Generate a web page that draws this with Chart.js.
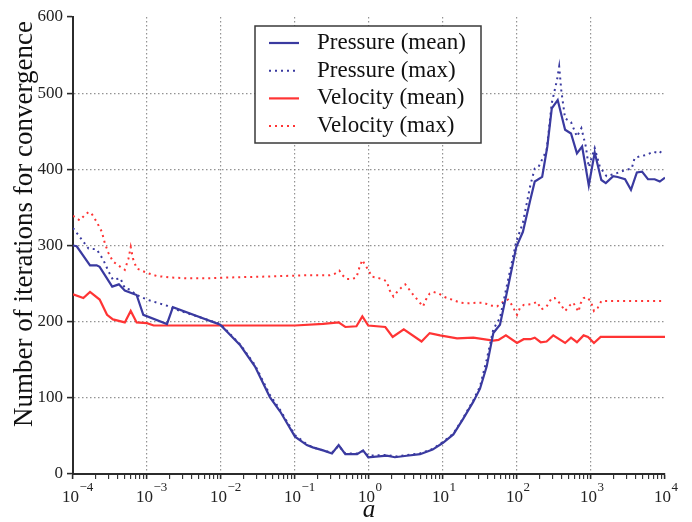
<!DOCTYPE html>
<html>
<head>
<meta charset="utf-8">
<script src="https://cdn.jsdelivr.net/npm/chart.js@4.4.1/dist/chart.umd.min.js"></script>
<style>
  html, body { margin: 0; padding: 0; background: #fff; }
  canvas { display: block; }
</style>
</head>
<body>
<canvas id="convergenceChart" width="692" height="522"></canvas>
<script>
const pressureMeanLogA = [-4.00, -3.95, -3.77, -3.68, -3.64, -3.47, -3.38, -3.30, -3.14, -3.05,
    -2.73, -2.65, -2.01, -1.74, -1.54, -1.34, -1.20, -1.00, -0.84, -0.76,
    -0.62, -0.50, -0.41, -0.32, -0.16, -0.08, -0.01, 0.24, 0.35, 0.51,
    0.69, 0.86, 1.00, 1.14, 1.27, 1.41, 1.50, 1.59, 1.68, 1.77,
    1.88, 1.99, 2.08, 2.18, 2.24, 2.34, 2.41, 2.47, 2.55, 2.65,
    2.73, 2.81, 2.88, 2.97, 3.05, 3.14, 3.20, 3.30, 3.36, 3.46,
    3.54, 3.62, 3.69, 3.77, 3.86, 3.93, 4.00];
const pressureMeanIters = [300, 299, 274, 274, 272, 246, 249, 241, 235, 209,
    197, 219, 196, 169, 141, 101, 82, 49, 38, 35,
    31, 27, 38, 26, 26, 31, 22, 24, 22, 24,
    26, 32, 41, 52, 72, 95, 112, 141, 185, 196,
    246, 298, 318, 360, 384, 390, 430, 480, 491, 452,
    447, 421, 430, 379, 422, 386, 382, 391, 390, 387,
    373, 396, 397, 387, 387, 384, 389];

const pressureMaxLogA = [-4.00, -3.86, -3.79, -3.68, -3.59, -3.52, -3.46, -3.36, -3.30, -3.23,
    -3.14, -3.00, -2.73, -2.64, -2.01, -1.74, -1.54, -1.34, -1.20, -1.00,
    -0.84, -0.76, -0.62, -0.50, -0.41, -0.32, -0.16, -0.08, -0.01, 0.24,
    0.35, 0.51, 0.69, 0.86, 1.00, 1.14, 1.27, 1.41, 1.50, 1.59,
    1.68, 1.77, 1.88, 1.99, 2.08, 2.18, 2.24, 2.29, 2.40, 2.47,
    2.54, 2.57, 2.60, 2.65, 2.73, 2.81, 2.87, 2.93, 2.97, 3.05,
    3.12, 3.21, 3.35, 3.46, 3.55, 3.59, 3.66, 3.75, 3.84, 3.93,
    3.97];
const pressureMaxIters = [323, 305, 296, 295, 281, 266, 255, 257, 244, 242,
    235, 229, 221, 217, 197, 170, 143, 104, 84, 51,
    39, 35, 31, 28, 37, 27, 27, 30, 24, 25,
    23, 25, 27, 33, 42, 53, 73, 97, 115, 150,
    190, 205, 255, 305, 330, 379, 401, 403, 425, 487,
    517, 535, 502, 467, 462, 443, 454, 430, 403, 428,
    403, 391, 395, 399, 401, 415, 417, 419, 423, 421,
    428];

const velocityMeanLogA = [-4.00, -3.86, -3.77, -3.64, -3.54, -3.46, -3.30, -3.22, -3.14, -3.00,
    -2.91, -1.00, -0.62, -0.41, -0.32, -0.17, -0.09, -0.01, 0.22, 0.32,
    0.47, 0.71, 0.82, 0.96, 1.19, 1.41, 1.68, 1.75, 1.85, 2.00,
    2.09, 2.18, 2.24, 2.32, 2.40, 2.49, 2.65, 2.73, 2.81, 2.90,
    2.96, 3.04, 3.13, 4.00];
const velocityMeanIters = [236, 231, 239, 229, 209, 203, 199, 214, 199, 198,
    195, 195, 197, 199, 193, 194, 207, 195, 193, 180,
    190, 174, 185, 182, 178, 179, 175, 176, 182, 172,
    177, 177, 179, 173, 174, 182, 172, 179, 173, 182,
    180, 172, 180, 180];

const velocityMaxLogA = [-4.00, -3.91, -3.84, -3.79, -3.75, -3.68, -3.61, -3.57, -3.52, -3.46,
    -3.36, -3.30, -3.25, -3.22, -3.19, -3.14, -3.00, -2.87, -2.69, -2.46,
    -2.15, -1.91, -1.47, -0.82, -0.53, -0.46, -0.40, -0.36, -0.30, -0.23,
    -0.17, -0.13, -0.09, -0.05, -0.01, 0.04, 0.10, 0.17, 0.24, 0.28,
    0.33, 0.38, 0.44, 0.49, 0.53, 0.60, 0.67, 0.73, 0.77, 0.82,
    0.87, 0.94, 1.03, 1.12, 1.23, 1.32, 1.46, 1.54, 1.66, 1.73,
    1.84, 1.88, 1.93, 2.00, 2.04, 2.09, 2.20, 2.27, 2.33, 2.40,
    2.47, 2.51, 2.58, 2.65, 2.72, 2.76, 2.83, 2.86, 2.90, 2.95,
    3.00, 3.04, 3.09, 3.14, 4.00];
const velocityMaxIters = [339, 333, 340, 344, 342, 331, 318, 303, 290, 279,
    272, 268, 283, 298, 283, 270, 264, 260, 258, 257,
    257, 258, 259, 261, 261, 263, 267, 261, 256, 256,
    258, 271, 281, 274, 268, 259, 258, 256, 253, 241,
    233, 239, 245, 249, 244, 235, 227, 220, 229, 237,
    239, 237, 232, 229, 225, 224, 225, 225, 221, 220,
    228, 229, 222, 209, 218, 222, 223, 226, 216, 220,
    231, 231, 224, 214, 222, 225, 213, 224, 231, 232,
    226, 214, 218, 227, 227];

const decadeExponents = [-4, -3, -2, -1, 0, 1, 2, 3, 4];
const yTickValues = [0, 100, 200, 300, 400, 500, 600];
const yAxisTitle = 'Number of iterations for convergence';

const SERIF = '"Liberation Serif", "DejaVu Serif", serif';
const BLUE = 'rgb(58, 58, 160)';
const RED = 'rgb(255, 52, 52)';
const GRID = 'rgba(120, 120, 120, 0.8)';
const AXIS = '#2b2b2b';

const toPoints = (logA, iters) => logA.map((e, i) => ({ x: Math.pow(10, e), y: iters[i] }));

// ticks at 1..9 x 10^n, labels only on the decades
const xTickValues = [];
decadeExponents.forEach((e, i) => {
    if (i === decadeExponents.length - 1) {
        xTickValues.push(Math.pow(10, e));
        return;
    }
    for (let m = 1; m <= 9; m++) xTickValues.push(m * Math.pow(10, e));
});

const isDecade = v => Math.abs(Math.log10(v) - Math.round(Math.log10(v))) < 1e-6;

// "10" with a raised exponent under each decade tick, plus the rotated y title
const axisText = {
    id: 'axisText',
    afterDraw(chart) {
        const { ctx } = chart;
        const xScale = chart.scales.x;
        ctx.save();
        ctx.fillStyle = '#222';
        ctx.textBaseline = 'alphabetic';
        ctx.textAlign = 'left';
        decadeExponents.forEach(exp => {
            const px = xScale.getPixelForValue(Math.pow(10, exp));
            const sup = exp < 0 ? '\u2212' + Math.abs(exp) : String(exp);
            ctx.font = '17px ' + SERIF;
            const baseW = ctx.measureText('10').width;
            const x0 = px - 11;
            ctx.fillText('10', x0, 502);
            ctx.font = '13px ' + SERIF;
            ctx.fillText(sup, x0 + baseW + 0.5, 491);
        });

        ctx.translate(25, 224);
        ctx.rotate(-Math.PI / 2);
        ctx.textAlign = 'center';
        ctx.textBaseline = 'middle';
        ctx.fillStyle = '#111';
        ctx.font = '27px ' + SERIF;
        ctx.fillText(yAxisTitle, 0, 0);
        ctx.restore();
    }
};

// boxed legend in the upper middle of the plot
const boxLegend = {
    id: 'boxLegend',
    afterDatasetsDraw(chart) {
        const { ctx, chartArea } = chart;
        const boxW = 226, boxH = 117;
        const left = Math.round((chartArea.left + chartArea.right) / 2 - boxW / 2) - 1;
        const top = chartArea.top + 9;
        ctx.save();
        ctx.fillStyle = '#fff';
        ctx.fillRect(left, top, boxW, boxH);
        ctx.strokeStyle = '#3a3a3a';
        ctx.lineWidth = 1.5;
        ctx.strokeRect(left, top, boxW, boxH);
        ctx.font = '23px ' + SERIF;
        ctx.textBaseline = 'middle';
        chart.data.datasets.forEach((ds, i) => {
            const y = top + 17 + i * 27.7;
            ctx.strokeStyle = ds.borderColor;
            ctx.lineWidth = ds.borderWidth;
            ctx.setLineDash(ds.borderDash || []);
            ctx.beginPath();
            ctx.moveTo(left + 14, y);
            ctx.lineTo(left + 44, y);
            ctx.stroke();
            ctx.setLineDash([]);
            ctx.fillStyle = '#111';
            ctx.fillText(ds.label, left + 62, y);
        });
        ctx.restore();
    }
};

const lineSet = (label, logA, iters, color, dotted) => ({
    label: label,
    data: toPoints(logA, iters),
    borderColor: color,
    backgroundColor: color,
    borderWidth: dotted ? 2 : 2.2,
    borderDash: dotted ? [2, 4] : [],
    pointRadius: 0,
    tension: 0,
    fill: false
});

new Chart(document.getElementById('convergenceChart'), {
    type: 'line',
    data: {
        datasets: [
            lineSet('Pressure (mean)', pressureMeanLogA, pressureMeanIters, BLUE, false),
            lineSet('Pressure (max)', pressureMaxLogA, pressureMaxIters, BLUE, true),
            lineSet('Velocity (mean)', velocityMeanLogA, velocityMeanIters, RED, false),
            lineSet('Velocity (max)', velocityMaxLogA, velocityMaxIters, RED, true)
        ]
    },
    options: {
        responsive: false,
        animation: false,
        devicePixelRatio: 1,
        layout: { padding: { top: 17, right: 27, left: 0, bottom: 0 } },
        plugins: {
            legend: { display: false },
            tooltip: { enabled: false }
        },
        scales: {
            x: {
                type: 'logarithmic',
                min: 1e-4,
                max: 1e4,
                afterBuildTicks: scale => {
                    scale.ticks = xTickValues.map(value => ({ value: value, major: isDecade(value) }));
                },
                afterFit: scale => { scale.height = 48; },
                ticks: {
                    autoSkip: false,
                    maxRotation: 0,
                    callback: () => ''
                },
                grid: {
                    color: ctx => {
                        if (!ctx.tick) return 'rgba(0,0,0,0)';
                        const v = ctx.tick.value;
                        return isDecade(v) && v > 1e-4 && v < 1e4 ? GRID : 'rgba(0,0,0,0)';
                    },
                    tickColor: AXIS,
                    tickLength: 5,
                    tickWidth: ctx => (ctx.tick && isDecade(ctx.tick.value) ? 1.6 : 1.1),
                    lineWidth: 1.2
                },
                border: { display: true, color: AXIS, width: 2, dash: [1.5, 2.5] },
                title: {
                    display: true,
                    text: 'a',
                    color: '#111',
                    font: { family: SERIF, size: 25, style: 'italic', lineHeight: 0.75 },
                    padding: { top: 0, bottom: 2 }
                }
            },
            y: {
                min: 0,
                max: 600,
                afterBuildTicks: scale => {
                    scale.ticks = yTickValues.map(value => ({ value: value }));
                },
                afterFit: scale => { scale.width = 73; },
                ticks: {
                    color: '#222',
                    padding: 4,
                    font: { family: SERIF, size: 17 }
                },
                grid: {
                    color: ctx => {
                        if (!ctx.tick) return 'rgba(0,0,0,0)';
                        const v = ctx.tick.value;
                        return v > 0 && v < 600 ? GRID : 'rgba(0,0,0,0)';
                    },
                    tickColor: AXIS,
                    tickLength: 6,
                    tickWidth: 1.6,
                    lineWidth: 1.2
                },
                border: { display: true, color: AXIS, width: 2, dash: [1.5, 2.5] }
            }
        }
    },
    plugins: [axisText, boxLegend]
});
</script>
</body>
</html>
